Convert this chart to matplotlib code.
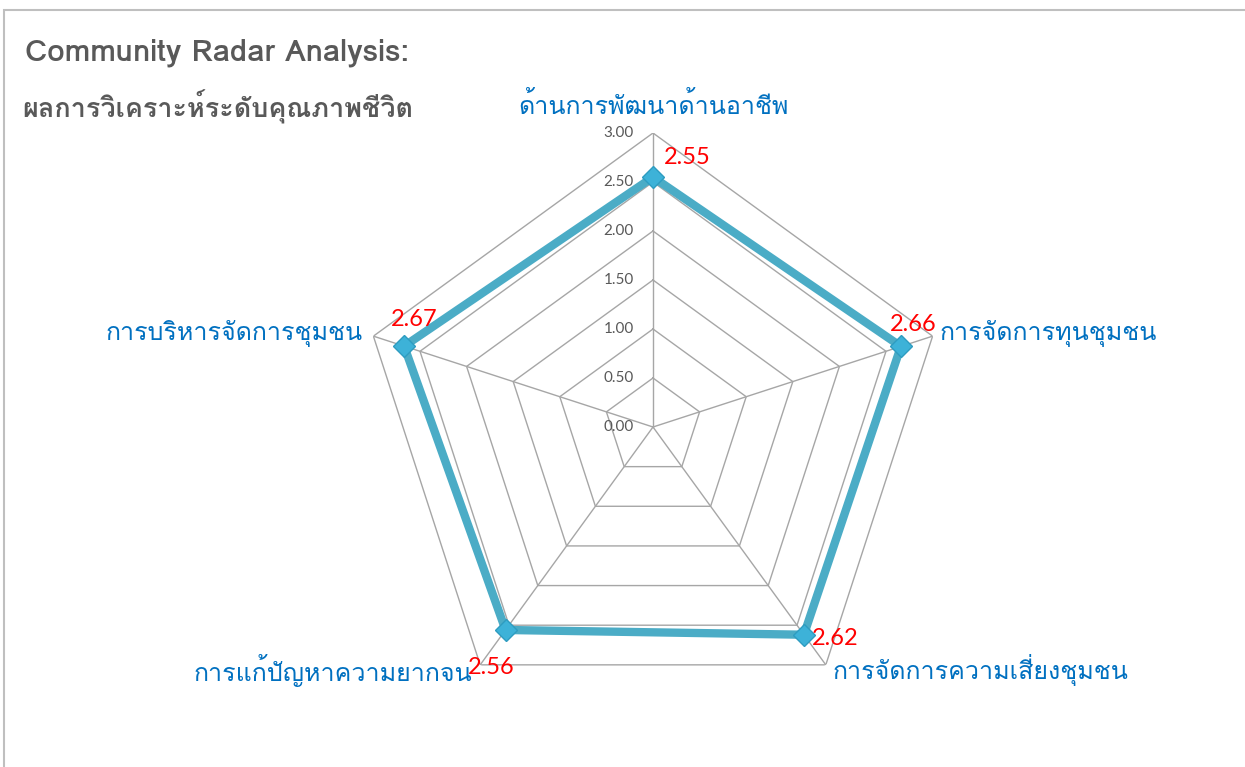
import matplotlib
matplotlib.use("Agg")
import matplotlib.pyplot as plt
import numpy as np
from matplotlib import font_manager
from matplotlib.patches import Rectangle

# data
categories = ["ด้านการพัฒนาด้านอาชีพ", "การจัดการทุนชุมชน", "การจัดการความเสี่ยงชุมชน",
              "การแก้ปัญหาความยากจน", "การบริหารจัดการชุมชน"]
scores = [2.55, 2.66, 2.62, 2.56, 2.67]
ring_values = [0.5, 1.0, 1.5, 2.0, 2.5, 3.0]
tick_values = [0.0, 0.5, 1.0, 1.5, 2.0, 2.5, 3.0]
title_en = "Community Radar Analysis:"
title_th = "ผลการวิเคราะห์ระดับคุณภาพชีวิต"

# pick a font that has Thai glyphs
names = {f.name for f in font_manager.fontManager.ttflist}
thai = [n for n in ["Loma", "Noto Sans Thai Looped", "IBM Plex Sans Thai Looped",
                    "Noto Sans Thai", "Sarabun", "Tahoma"] if n in names]
thai_fam = thai[:1] + ["DejaVu Sans"]
num_fam = ["Lato", "DejaVu Sans"]

line_col = "#4BACC6"
grid_col = "#A6A6A6"
label_col = "#0070C0"
gray = "#595959"

fig = plt.figure(figsize=(12.45, 7.67), dpi=100)
ax = fig.add_axes([359 / 1245, 46 / 767, 588 / 1245, 588 / 767], projection="polar")
ax.set_theta_offset(np.pi / 2)
ax.set_theta_direction(-1)
ax.set_ylim(0, 3)
ax.grid(False)
ax.spines["polar"].set_visible(False)
ax.set_xticks([])
ax.set_yticks([])
ax.patch.set_alpha(0)

n = len(categories)
theta = np.linspace(0, 2 * np.pi, n, endpoint=False)
theta_c = np.append(theta, theta[0])

# polygon grid
for r in ring_values:
    ax.plot(theta_c, [r] * (n + 1), color=grid_col, lw=1, zorder=1)
for t in theta:
    ax.plot([t, t], [0, 3], color=grid_col, lw=1, zorder=1)

# radial tick labels
for v in tick_values:
    ax.annotate(f"{v:.2f}", xy=(0, v), xytext=(-14, 0), textcoords="offset points",
                ha="right", va="center", fontsize=11, color=gray, family=num_fam)

# series
vals = np.append(scores, scores[0])
ax.plot(theta_c, vals, color=line_col, lw=6, zorder=3, solid_joinstyle="miter")
ax.plot(theta, scores, ls="none", marker="D", markersize=11, markerfacecolor="#3DB2D8",
        markeredgecolor="#2E9CC0", markeredgewidth=1, zorder=4)

# value labels (offsets in points)
value_offsets = [(8, 14), (9, 16), (6, -3), (-10, -27), (7, 19)]
value_ha = ["left", "center", "left", "center", "center"]
for t, s, off, ha in zip(theta, scores, value_offsets, value_ha):
    ax.annotate(f"{s:.2f}", xy=(t, s), xytext=off, textcoords="offset points",
                ha=ha, va="center", fontsize=17, color="#FF0000", family=num_fam, zorder=5)

# category labels
cat_offsets = [(0, 20), (5, 2), (5, -4), (-6, -4), (-8, 2)]
cat_ha = ["center", "left", "left", "right", "right"]
for t, c, off, ha in zip(theta, categories, cat_offsets, cat_ha):
    ax.annotate(c, xy=(t, 3.0), xytext=off, textcoords="offset points",
                ha=ha, va="center", fontsize=18, color=label_col, family=thai_fam)

# titles
fig.text(25 / 1245, 1 - 53 / 767, title_en, fontsize=22.3, fontweight="bold",
         color=gray, family=thai_fam, va="center", ha="left")
fig.text(22 / 1245, 1 - 107 / 767, title_th, fontsize=19.4, fontweight="bold",
         color=gray, family=thai_fam, va="center", ha="left")

# chart frame (top and left edge visible)
fig.add_artist(Rectangle((4 / 1245, -0.1), 1.5, 1.1 - 10 / 767, transform=fig.transFigure,
                         fill=False, edgecolor="#BFBFBF", lw=1.5))

fig.savefig("out.png", dpi=100)
